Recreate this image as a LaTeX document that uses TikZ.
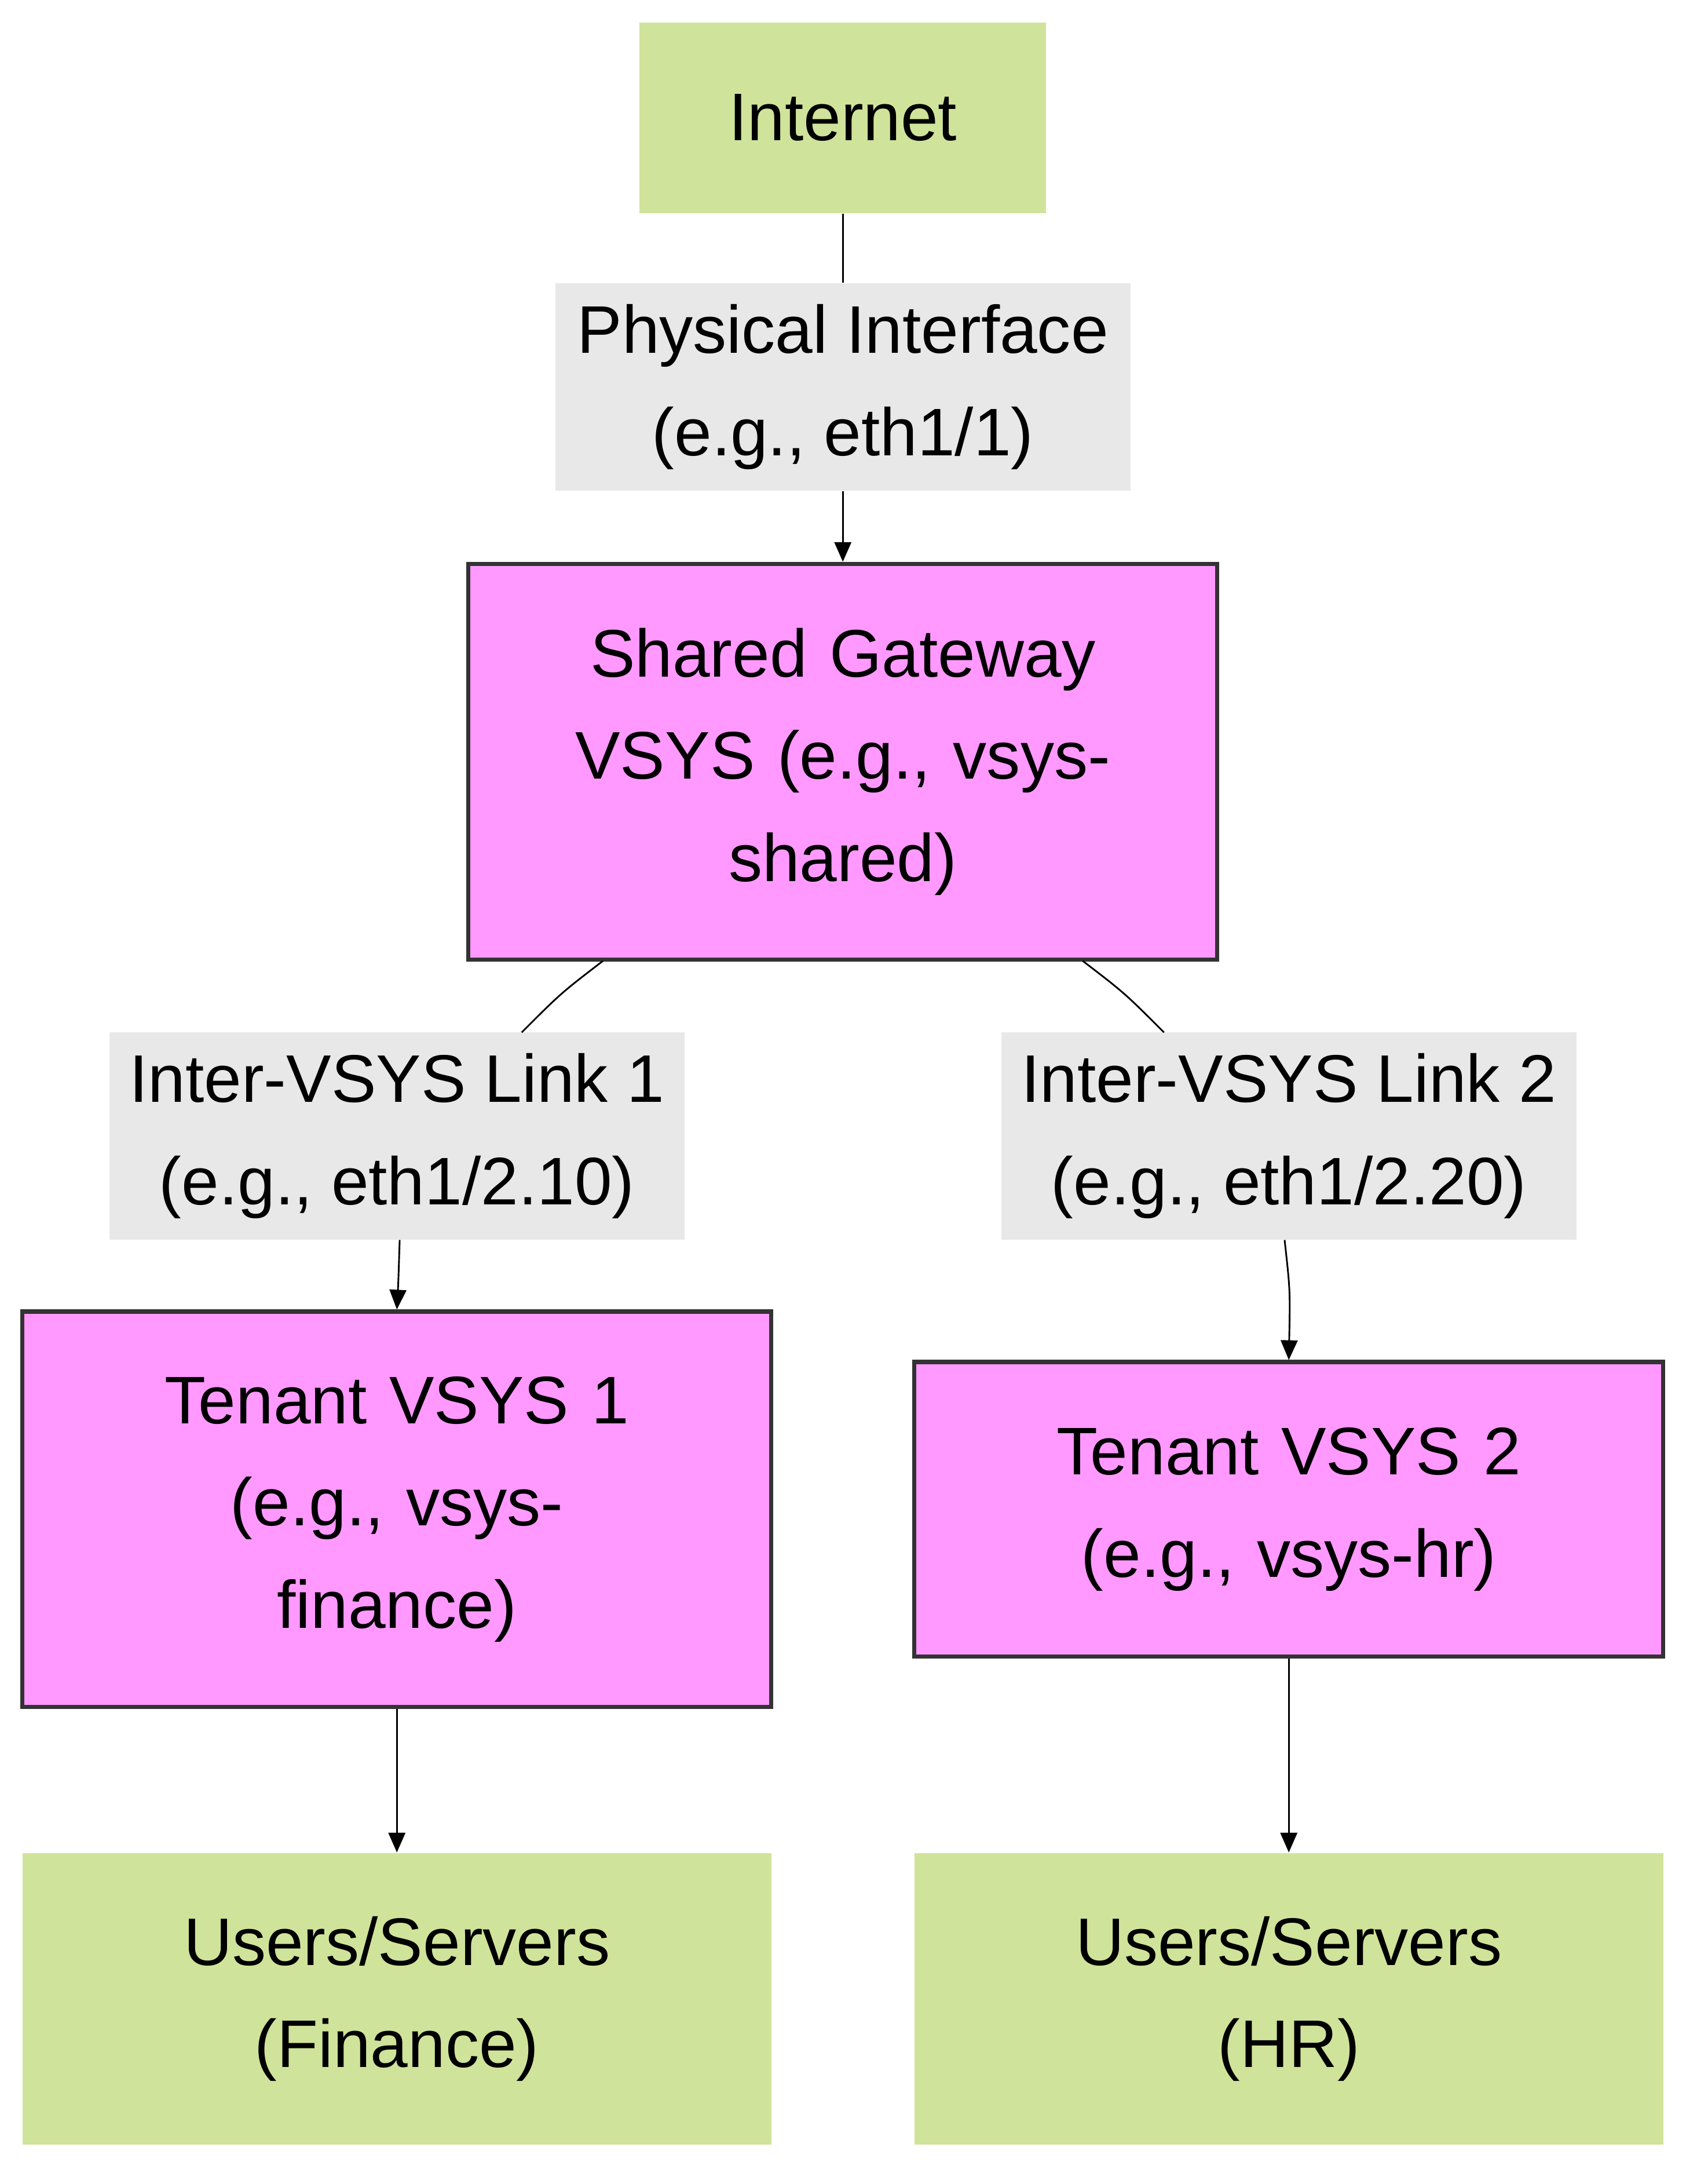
\documentclass[tikz,border=0pt]{standalone}
\usepackage{fontspec}
\setmainfont{Liberation Sans}
\usetikzlibrary{arrows.meta,positioning}
\definecolor{boxgreen}{HTML}{D0E39A}
\definecolor{boxpink}{HTML}{FF99FF}
\definecolor{boxborder}{HTML}{333333}
\definecolor{lblgray}{HTML}{E8E8E8}
\tikzset{
  box/.style={draw=none,fill=boxgreen,minimum width=267pt,text width=260pt,align=center,inner sep=0pt},
  vsys/.style={draw=boxborder,line width=1.5pt,fill=boxpink,minimum width=267pt,text width=260pt,align=center,inner sep=0pt},
  lbl/.style={fill=lblgray,align=center,minimum width=205pt,minimum height=74pt,inner sep=0pt},
  link/.style={line width=0.6pt,draw=black},
  arr/.style={link,-{Triangle[length=7pt,width=6pt]}}
}
\begin{document}
\begin{tikzpicture}[x=0.5pt,y=-0.5pt,font=\fontsize{24}{36.5}\selectfont]
	\useasboundingbox (0,0) rectangle (1210,1557);

	\node[box,minimum width=145pt,text width=140pt,minimum height=68pt] (inet) at (601,84) {Internet};
	\node[lbl] (phys) at (601,276) {Physical Interface\\(e.g., eth1/1)};
	\node[vsys,minimum height=141pt] (shared) at (601,543) {Shared Gateway\\VSYS (e.g., vsys-\\shared)};
	\node[lbl] (link1) at (283,810) {Inter-VSYS Link 1\\(e.g., eth1/2.10)};
	\node[lbl] (link2) at (919,810) {Inter-VSYS Link 2\\(e.g., eth1/2.20)};
	\node[vsys,minimum height=141pt] (ten1) at (283,1076) {Tenant VSYS 1\\(e.g., vsys-\\finance)};
	\node[vsys,minimum height=105pt] (ten2) at (919,1076) {Tenant VSYS 2\\(e.g., vsys-hr)};
	\node[box,minimum height=104pt] (usr1) at (283,1425) {Users/Servers\\(Finance)};
	\node[box,minimum height=104pt] (usr2) at (919,1425) {Users/Servers\\(HR)};

	% curve end points
	\coordinate (s1) at (430,685);
	\coordinate (e1) at (372,736);
	\coordinate (s2) at (772,685);
	\coordinate (e2) at (830,736);
	\coordinate (b1) at (285,884);
	\coordinate (b2) at (916,884);

	% edges
	\draw[link] (inet) -- (phys);
	\draw[arr] (phys) -- (shared);
	\draw[link] (s1) .. controls (400,708) .. (e1);
	\draw[link] (s2) .. controls (802,708) .. (e2);
	\draw[arr] (b1) .. controls (284,915) .. (ten1.north);
	\draw[arr] (b2) .. controls (920,920) .. (ten2.north);
	\draw[arr] (ten1) -- (usr1);
	\draw[arr] (ten2) -- (usr2);
\end{tikzpicture}
\end{document}
